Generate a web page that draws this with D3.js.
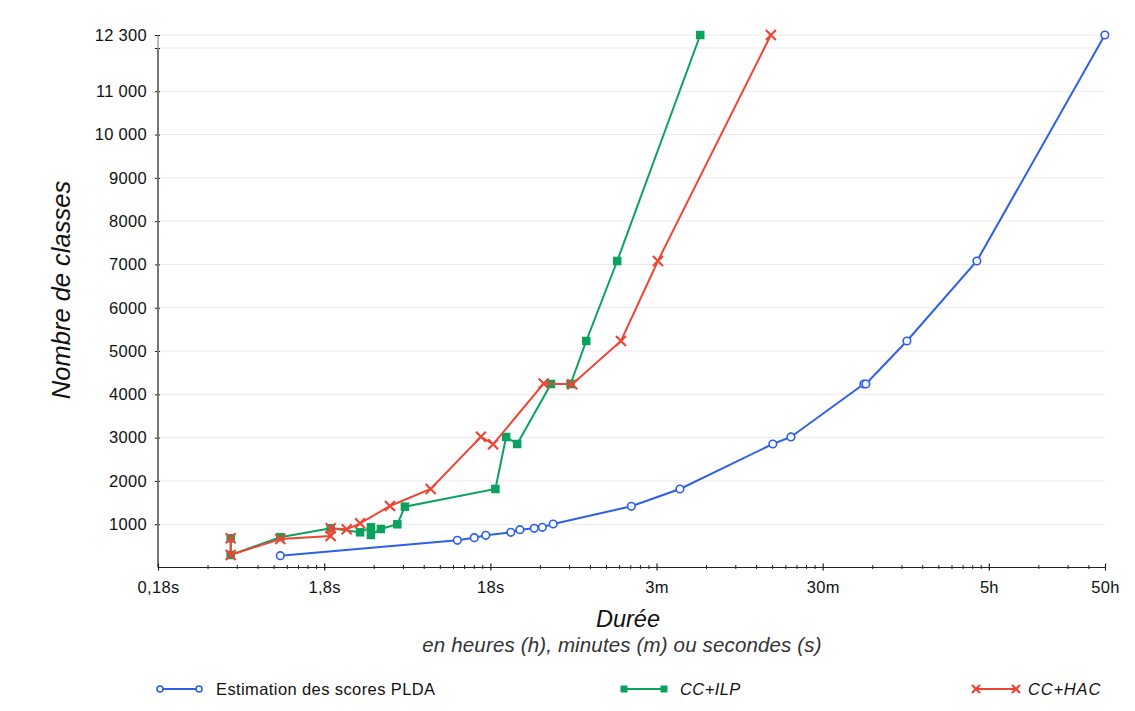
<!DOCTYPE html>
<html>
<head>
<meta charset="utf-8">
<script src="https://cdn.jsdelivr.net/npm/d3@7/dist/d3.min.js"></script>
<style>
  html, body { margin: 0; padding: 0; background: #fff; }
  svg { display: block; font-family: "Liberation Sans", Arial, Helvetica, sans-serif; }
</style>
</head>
<body>
<svg id="chart" width="1135" height="711"></svg>
<script>
// ---------- DATA ----------
const xTickValues = [0.18, 1.8, 18, 180, 1800, 18000, 90000];
const xTickLabels = ["0,18s", "1,8s", "18s", "3m", "30m", "5h", "50h"];
const yTickValues = [1000, 2000, 3000, 4000, 5000, 6000, 7000, 8000, 9000, 10000, 11000, 12000, 12300];
const yTickLabels = ["1000", "2000", "3000", "4000", "5000", "6000", "7000", "8000", "9000", "10 000", "11 000", "", "12 300"];

const seriesNames = ["Estimation des scores PLDA", "CC+ILP", "CC+HAC"];

const pldaTime   = [0.98, 11.4, 14.4, 16.9, 23.9, 27.1, 33.1, 37, 43, 127, 249, 902, 1159, 3186, 3275, 5783, 15250, 89800];
const pldaCount  = [273, 628, 688, 744, 813, 873, 905, 929, 1005, 1414, 1813, 2853, 3015, 4239, 4239, 5232, 7080, 12300];

const ilpTime    = [0.493, 0.493, 0.98, 1.97, 2.96, 3.44, 3.44, 3.95, 4.96, 5.51, 19.3, 22.4, 26.1, 41.7, 54.7, 68, 104.4, 330];
const ilpCount   = [675, 289, 700, 906, 813, 929, 751, 889, 998, 1405, 1813, 3015, 2853, 4239, 4239, 5232, 7080, 12300];

const hacTime    = [0.493, 0.493, 0.98, 1.97, 1.97, 2.46, 2.96, 4.48, 7.87, 15.8, 18.7, 37.7, 56, 110, 183.5, 878];
const hacCount   = [675, 289, 660, 728, 906, 882, 1021, 1421, 1813, 3021, 2846, 4250, 4232, 5232, 7080, 12300];

// ---------- LAYOUT ----------
const svg = d3.select("#chart");
const mLeft = 158, mRight = 1105, mTop = 35, mBottom = 567.5;
const x = d3.scaleLog().domain([0.18, 90000]).range([mLeft, mRight]);
const y = d3.scaleLinear().domain([0, 12300]).range([mBottom, mTop]);

const colors = { plda: "#2d5fe8", ilp: "#0aa35d", hac: "#ef4535" };
const FONT = '"Liberation Sans", Arial, sans-serif';

// grid
svg.append("g").selectAll("line").data(yTickValues).join("line")
  .attr("x1", mLeft).attr("x2", mRight)
  .attr("y1", d => y(d)).attr("y2", d => y(d))
  .attr("stroke", "#e9e9e9").attr("stroke-width", 1);

// y axis
const yAxis = d3.axisLeft(y).tickValues(yTickValues)
  .tickFormat((d, i) => yTickLabels[i]).tickSize(3).tickPadding(8);
const gy = svg.append("g").attr("transform", `translate(${mLeft},0)`).call(yAxis);
gy.select(".domain").remove();
gy.selectAll(".tick line").attr("x2", -3).attr("x1", 2).attr("stroke", "#111");
gy.selectAll(".tick text").attr("font-size", 16.5).attr("fill", "#111")
  .attr("letter-spacing", 0.3).attr("font-family", FONT);
svg.append("line").attr("x1", mLeft).attr("x2", mLeft).attr("y1", y(12000)).attr("y2", mBottom)
  .attr("stroke", "#777").attr("stroke-width", 2);
svg.append("line").attr("x1", mLeft).attr("x2", mLeft).attr("y1", mTop).attr("y2", y(12000))
  .attr("stroke", "#777").attr("stroke-width", 1);

// x axis minor ticks
const minorTicks = [];
for (let dec = 0.18; dec < 90000; dec *= 10) {
  for (let m = 2; m <= 9; m++) {
    const v = dec * m;
    if (v < 90000 * 0.999) minorTicks.push(v);
  }
}
const gx = svg.append("g").attr("transform", `translate(0,${mBottom})`);
gx.append("line").attr("x1", mLeft).attr("x2", mRight).attr("y1", 0).attr("y2", 0)
  .attr("stroke", "#222").attr("stroke-width", 1.2);
gx.selectAll("line.minor").data(minorTicks).join("line").attr("class", "minor")
  .attr("x1", d => x(d)).attr("x2", d => x(d)).attr("y1", -2.5).attr("y2", 1.5)
  .attr("stroke", "#222").attr("stroke-width", 1);
const xAxis = d3.axisBottom(x).tickValues(xTickValues)
  .tickFormat((d, i) => xTickLabels[i]).tickSize(3).tickPadding(11);
const gxa = svg.append("g").attr("transform", `translate(0,${mBottom})`).call(xAxis);
gxa.select(".domain").remove();
gxa.selectAll(".tick line").attr("y1", -4).attr("y2", 3).attr("stroke", "#222").attr("stroke-width", 1.2);
gxa.selectAll(".tick text").attr("font-size", 16.5).attr("fill", "#111")
  .attr("letter-spacing", 0.3).attr("font-family", FONT);

// titles
svg.append("text").attr("x", 628).attr("y", 627).attr("text-anchor", "middle")
  .attr("font-size", 23.5).attr("font-style", "italic").attr("fill", "#111").text("Durée");
svg.append("text").attr("x", 622).attr("y", 652).attr("text-anchor", "middle")
  .attr("font-size", 20.5).attr("letter-spacing", 0.15).attr("font-style", "italic").attr("fill", "#333")
  .text("en heures (h), minutes (m) ou secondes (s)");
svg.append("text").attr("transform", "translate(70,290) rotate(-90)").attr("text-anchor", "middle")
  .attr("font-size", 25.5).attr("font-style", "italic").attr("fill", "#111").text("Nombre de classes");

// ---------- SERIES ----------
const line = d3.line().x(d => x(d[0])).y(d => y(d[1]));
const plda = pldaTime.map((t, i) => [t, pldaCount[i]]);
const ilp = ilpTime.map((t, i) => [t, ilpCount[i]]);
const hac = hacTime.map((t, i) => [t, hacCount[i]]);

function drawCircle(g, cx, cy, r, col) {
  g.append("circle").attr("cx", cx).attr("cy", cy).attr("r", r)
    .attr("fill", "#fff").attr("stroke", col).attr("stroke-width", 1.6);
}
function drawSquare(g, cx, cy, s, col) {
  g.append("rect").attr("x", cx - s / 2).attr("y", cy - s / 2).attr("width", s).attr("height", s)
    .attr("fill", col);
}
function drawX(g, cx, cy, s, col) {
  g.append("path").attr("d", `M${cx - s},${cy - s}L${cx + s},${cy + s}M${cx - s},${cy + s}L${cx + s},${cy - s}`)
    .attr("stroke", col).attr("stroke-width", 2.2).attr("fill", "none");
}

// PLDA
const gP = svg.append("g");
gP.append("path").datum(plda).attr("d", line).attr("fill", "none")
  .attr("stroke", colors.plda).attr("stroke-width", 2);
plda.forEach(d => drawCircle(gP, x(d[0]), y(d[1]), 3.8, colors.plda));

// ILP
const gI = svg.append("g");
gI.append("path").datum(ilp).attr("d", line).attr("fill", "none")
  .attr("stroke", colors.ilp).attr("stroke-width", 2);
ilp.forEach(d => drawSquare(gI, x(d[0]), y(d[1]), 8.5, colors.ilp));

// HAC
const gH = svg.append("g");
gH.append("path").datum(hac).attr("d", line).attr("fill", "none")
  .attr("stroke", colors.hac).attr("stroke-width", 2);
hac.forEach(d => drawX(gH, x(d[0]), y(d[1]), 5, colors.hac));

// ---------- LEGEND ----------
const ly = 689;
const lg = svg.append("g");
lg.append("line").attr("x1", 159).attr("x2", 200).attr("y1", ly).attr("y2", ly)
  .attr("stroke", colors.plda).attr("stroke-width", 2);
drawCircle(lg, 160, ly, 3, colors.plda);
drawCircle(lg, 199, ly, 3, colors.plda);
lg.append("text").attr("x", 216).attr("y", ly + 6).attr("font-size", 16.5).attr("letter-spacing", 0.4)
  .attr("fill", "#111").text(seriesNames[0]);

lg.append("line").attr("x1", 622).attr("x2", 666).attr("y1", ly).attr("y2", ly)
  .attr("stroke", colors.ilp).attr("stroke-width", 2);
drawSquare(lg, 624, ly, 7, colors.ilp);
drawSquare(lg, 664, ly, 7, colors.ilp);
lg.append("text").attr("x", 680).attr("y", ly + 6).attr("font-size", 16.5).attr("letter-spacing", 0.4)
  .attr("font-style", "italic").attr("fill", "#111").text(seriesNames[1]);

lg.append("line").attr("x1", 974).attr("x2", 1018).attr("y1", ly).attr("y2", ly)
  .attr("stroke", colors.hac).attr("stroke-width", 2);
drawX(lg, 976, ly, 4, colors.hac);
drawX(lg, 1016, ly, 4, colors.hac);
lg.append("text").attr("x", 1028).attr("y", ly + 6).attr("font-size", 16.5).attr("letter-spacing", 0.8)
  .attr("font-style", "italic").attr("fill", "#111").text(seriesNames[2]);
</script>
</body>
</html>
